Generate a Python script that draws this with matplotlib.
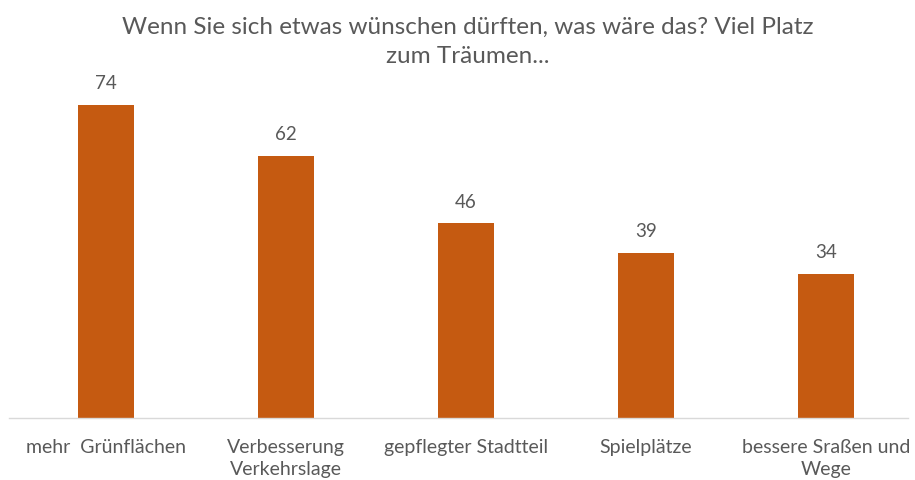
import matplotlib
matplotlib.use("Agg")
import matplotlib.pyplot as plt

categories = ["mehr  Grünflächen", "Verbesserung\nVerkehrslage", "gepflegter Stadtteil",
              "Spielplätze", "bessere Sraßen und\nWege"]
values = [74, 62, 46, 39, 34]
title = "Wenn Sie sich etwas wünschen dürften, was wäre das? Viel Platz\nzum Träumen..."

bar_color = "#C55A11"
text_color = "#595959"
plt.rcParams["font.family"] = ["Lato", "DejaVu Sans"]

W, H = 915, 480
fig = plt.figure(figsize=(W / 100, H / 100), dpi=100)
ax = fig.add_axes([9 / W, (H - 418) / H, 899 / W, (418 - 60) / H])

x = list(range(len(categories)))
ax.bar(x, values, width=0.311, color=bar_color)
for xi, v in zip(x, values):
    ax.text(xi, v + 3.0, str(v), ha="center", va="bottom", fontsize=13.5, color=text_color)

ax.set_xlim(-0.539, 4.456)
ax.set_ylim(0, 84.6)
ax.set_xticks(x)
ax.set_xticklabels(categories, fontsize=14, color=text_color, linespacing=1.4)
ax.tick_params(axis="x", length=0, pad=15)
ax.set_yticks([])
for s in ["top", "right", "left"]:
    ax.spines[s].set_visible(False)
ax.spines["bottom"].set_color("#D9D9D9")
ax.spines["bottom"].set_linewidth(1.0)

fig.text(468 / W, 1 - 17 / H, title, ha="center", va="top", fontsize=17.5, color=text_color,
         linespacing=1.45)

fig.savefig("out.png", dpi=100, facecolor="white")
